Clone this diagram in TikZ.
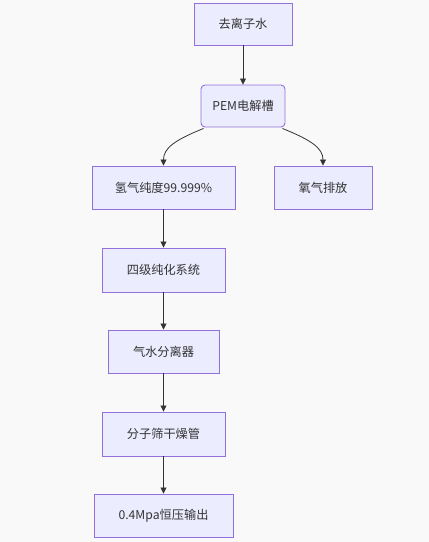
\documentclass[tikz,border=0pt]{standalone}
\usepackage{fontspec}
\setmainfont{Noto Sans CJK SC}
\usetikzlibrary{arrows.meta}
\definecolor{bg}{HTML}{F9F9F9}
\definecolor{nodefill}{HTML}{ECECFF}
\definecolor{nodedraw}{HTML}{9370DB}
\definecolor{linec}{HTML}{333333}
\begin{document}
\begin{tikzpicture}[x=1pt,y=-1pt,
  box/.style={draw=nodedraw,fill=nodefill,line width=0.9pt,inner sep=0pt,
    font=\fontsize{12.2}{14}\selectfont,text=linec},
  conn/.style={draw=linec,line width=0.8pt,-{Triangle[length=6pt,width=6pt]}}]
\fill[bg] (0,0) rectangle (429,542);
\useasboundingbox (0,0) rectangle (429,542);
\node[box,minimum width=98pt,minimum height=42pt] (a) at (243,24) {去离子水};
\node[box,rounded corners=4pt,minimum width=84pt,minimum height=42pt] (b) at (243,106) {PEM电解槽};
\node[box,minimum width=143pt,minimum height=43pt] (c) at (163.5,187.5) {氢气纯度99.999\%};
\node[box,minimum width=98pt,minimum height=43pt] (d) at (323,187.5) {氧气排放};
\node[box,minimum width=123pt,minimum height=44pt] (e) at (163.5,270) {四级纯化系统};
\node[box,minimum width=111pt,minimum height=43pt] (f) at (163.5,351.5) {气水分离器};
\node[box,minimum width=123pt,minimum height=44pt] (g) at (163.5,434) {分子筛干燥管};
\node[box,minimum width=139pt,minimum height=43pt] (h) at (163.5,515.5) {0.4Mpa恒压输出};
\draw[conn] (a) -- (b);
\draw[conn] ([xshift=3pt,yshift=-1pt]b.south west) .. controls (175,140) and (163.5,148) .. (c.north);
\draw[conn] ([xshift=-3pt,yshift=-1pt]b.south east) .. controls (311,140) and (323,148) .. (d.north);
\draw[conn] (c) -- (e);
\draw[conn] (e) -- (f);
\draw[conn] (f) -- (g);
\draw[conn] (g) -- (h);
\end{tikzpicture}
\end{document}
